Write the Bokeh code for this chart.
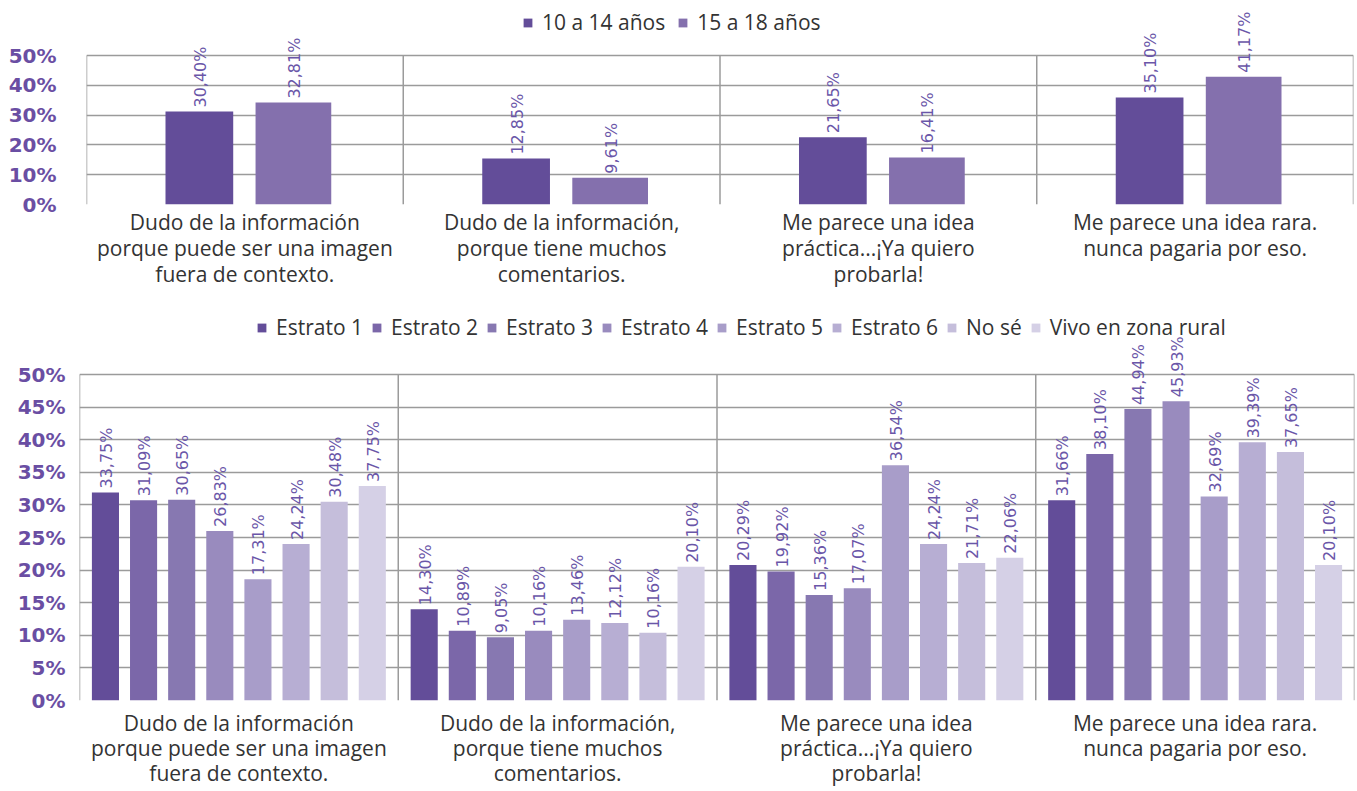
import json
from math import pi
from bokeh.plotting import figure
from bokeh.models import (FactorRange, Range1d, PrintfTickFormatter, FixedTicker,
                          ColumnDataSource, Legend, LegendItem, CategoricalAxis,
                          CustomJSTickFormatter)
from bokeh.transform import dodge
from bokeh.embed import file_html
from bokeh.resources import INLINE
from bokeh.core.properties import value

# ---------------- data ----------------
category_lines = [
    ["Dudo de la información", "porque puede ser una imagen", "fuera de contexto."],
    ["Dudo de la información,", "porque tiene muchos", "comentarios."],
    ["Me parece una idea", "práctica...¡Ya quiero", "probarla!"],
    ["Me parece una idea rara.", "nunca pagaria por eso.", ""],
]
categories = [" ".join(l for l in lines if l) for lines in category_lines]

age_names = ["10 a 14 años", "15 a 18 años"]
age_10_14 = [31.2, 15.4, 22.6, 35.9]
age_10_14_labels = ["30,40%", "12,85%", "21,65%", "35,10%"]
age_15_18 = [34.2, 9.0, 15.8, 42.9]
age_15_18_labels = ["32,81%", "9,61%", "16,41%", "41,17%"]

strata_names = ["Estrato 1", "Estrato 2", "Estrato 3", "Estrato 4", "Estrato 5",
                "Estrato 6", "No sé", "Vivo en zona rural"]
estrato_1 = [31.9, 14.0, 20.8, 30.7]
estrato_1_labels = ["33,75%", "14,30%", "20,29%", "31,66%"]
estrato_2 = [30.7, 10.7, 19.8, 37.8]
estrato_2_labels = ["31,09%", "10,89%", "19,92%", "38,10%"]
estrato_3 = [30.8, 9.7, 16.2, 44.7]
estrato_3_labels = ["30,65%", "9,05%", "15,36%", "44,94%"]
estrato_4 = [26.0, 10.7, 17.2, 45.9]
estrato_4_labels = ["26,83%", "10,16%", "17,07%", "45,93%"]
estrato_5 = [18.6, 12.4, 36.1, 31.3]
estrato_5_labels = ["17,31%", "13,46%", "36,54%", "32,69%"]
estrato_6 = [24.0, 11.9, 24.0, 39.6]
estrato_6_labels = ["24,24%", "12,12%", "24,24%", "39,39%"]
no_se = [30.5, 10.4, 21.1, 38.1]
no_se_labels = ["30,48%", "10,16%", "21,71%", "37,65%"]
rural = [32.9, 20.5, 21.9, 20.8]
rural_labels = ["37,75%", "20,10%", "22,06%", "20,10%"]

y_max = 50
top_ticks = [0, 10, 20, 30, 40, 50]
bottom_ticks = [0, 5, 10, 15, 20, 25, 30, 35, 40, 45, 50]

# ---------------- styles ----------------
age_colors = ["#634d99", "#8470ad"]
strata_colors = ["#634d99", "#7b67a9", "#8778b1", "#998bbe", "#a89dc9", "#b7aed3",
                 "#c5bedb", "#d5d0e6"]
GRID = "#9b9b9b"
LABEL_COLOR = "#6a56a8"
TICK_COLOR = "#6a4ea3"
TEXT_COLOR = "#333333"
FONT = "Open Sans"
W = 1357


def style_cat_axis(ax, line_idx, standoff):
    ax.axis_line_color = None
    ax.major_tick_line_color = None
    ax.major_tick_out = 0
    ax.major_tick_in = 0
    ax.major_label_standoff = standoff
    ax.major_label_text_font = FONT
    ax.major_label_text_font_size = "21px"
    ax.major_label_text_color = TEXT_COLOR
    mapping = {c: lines[line_idx] for c, lines in zip(categories, category_lines)}
    ax.formatter = CustomJSTickFormatter(
        code="const m = %s; return (tick in m) ? m[tick] : '';" % json.dumps(mapping))


def base_fig(height, left, right, bottom, frame_h, box_h, ticks, y_standoff, x_standoffs):
    # frame reaches the top of the figure so that value labels and legend are not clipped;
    # the chart box (0..50 %) occupies the lower box_h pixels of the frame.
    y_top = y_max * frame_h / box_h
    p = figure(x_range=FactorRange(*categories, range_padding=0), y_range=Range1d(0, y_top),
               width=W, height=height, output_backend="svg", toolbar_location=None,
               min_border_left=left, min_border_right=right, min_border_top=0,
               min_border_bottom=bottom)
    p.outline_line_color = None
    p.xgrid.visible = False
    p.ygrid.grid_line_color = GRID
    p.ygrid.grid_line_width = 1.5
    p.yaxis.ticker = FixedTicker(ticks=ticks)
    p.yaxis.formatter = PrintfTickFormatter(format="%d%%")
    p.yaxis.axis_line_color = None
    p.yaxis.major_tick_line_color = None
    p.yaxis.minor_tick_line_color = None
    p.yaxis.major_tick_out = 0
    p.yaxis.major_tick_in = 0
    p.yaxis.major_label_standoff = y_standoff
    p.yaxis.major_label_text_font = "DejaVu Sans"
    p.yaxis.major_label_text_font_style = "bold"
    p.yaxis.major_label_text_font_size = "20px"
    p.yaxis.major_label_text_color = TICK_COLOR
    style_cat_axis(p.xaxis[0], 0, x_standoffs[0])
    for i in (1, 2):
        ax = CategoricalAxis()
        style_cat_axis(ax, i, x_standoffs[i])
        p.add_layout(ax, "below")
    # vertical box lines / category separators
    p.segment(x0=dodge("cat", -0.5, range=p.x_range), y0=0,
              x1=dodge("cat", -0.5, range=p.x_range), y1=y_max,
              source=ColumnDataSource(dict(cat=categories)), line_color=GRID, line_width=1.5)
    p.segment(x0=dodge("cat", 0.5, range=p.x_range), y0=0,
              x1=dodge("cat", 0.5, range=p.x_range), y1=y_max,
              source=ColumnDataSource(dict(cat=categories[-1:])), line_color=GRID,
              line_width=1.5)
    return p


def add_series(p, vals, labels, offset, width, color):
    src = ColumnDataSource(dict(cat=categories, v=vals, lab=labels))
    r = p.vbar(x=dodge("cat", offset, range=p.x_range), top="v", width=width, source=src,
               fill_color=color, line_color=None)
    p.text(x=dodge("cat", offset + 0.003, range=p.x_range), y="v", text="lab", source=src,
           angle=pi / 2, text_align="left", text_baseline="middle", y_offset=-4,
           text_font=value("DejaVu Sans"), text_font_size="16px", text_color=LABEL_COLOR)
    return r


def add_legend(p, items, loc, spacing):
    leg = Legend(items=items, orientation="horizontal", location=loc,
                 label_text_font=FONT, label_text_font_size="21px",
                 label_text_color=TEXT_COLOR, glyph_width=11, glyph_height=11,
                 label_standoff=9, spacing=spacing, padding=0, margin=0,
                 border_line_color=None, background_fill_alpha=0)
    p.add_layout(leg, "center")


# ---------------- top chart ----------------
top = base_fig(292, 86, 4, 88, 204, 149, top_ticks, 30, (3, -5, -5))
age_offsets = [-0.1437, 0.1532]
age_widths = [0.2138, 0.239]
age_vals = [age_10_14, age_15_18]
age_labs = [age_10_14_labels, age_15_18_labels]
items = []
for i in range(2):
    r = add_series(top, age_vals[i], age_labs[i], age_offsets[i], age_widths[i], age_colors[i])
    items.append(LegendItem(label=age_names[i], renderers=[r]))
add_legend(top, items, (436, 168), 12)

# ---------------- bottom chart ----------------
bottom = base_fig(499, 79, 3, 91, 408, 326, bottom_ticks, 14, (8, -6, -6))
strata_vals = [estrato_1, estrato_2, estrato_3, estrato_4, estrato_5, estrato_6, no_se, rural]
strata_labs = [estrato_1_labels, estrato_2_labels, estrato_3_labels, estrato_4_labels,
               estrato_5_labels, estrato_6_labels, no_se_labels, rural_labels]
items = []
for k in range(8):
    off = (k - 3.5) * 0.1196
    r = add_series(bottom, strata_vals[k], strata_labs[k], off, 0.085, strata_colors[k])
    items.append(LegendItem(label=strata_names[k], renderers=[r]))
add_legend(bottom, items, (177, 359), 8)

open("out.html", "w").write(file_html([top, bottom], INLINE))
